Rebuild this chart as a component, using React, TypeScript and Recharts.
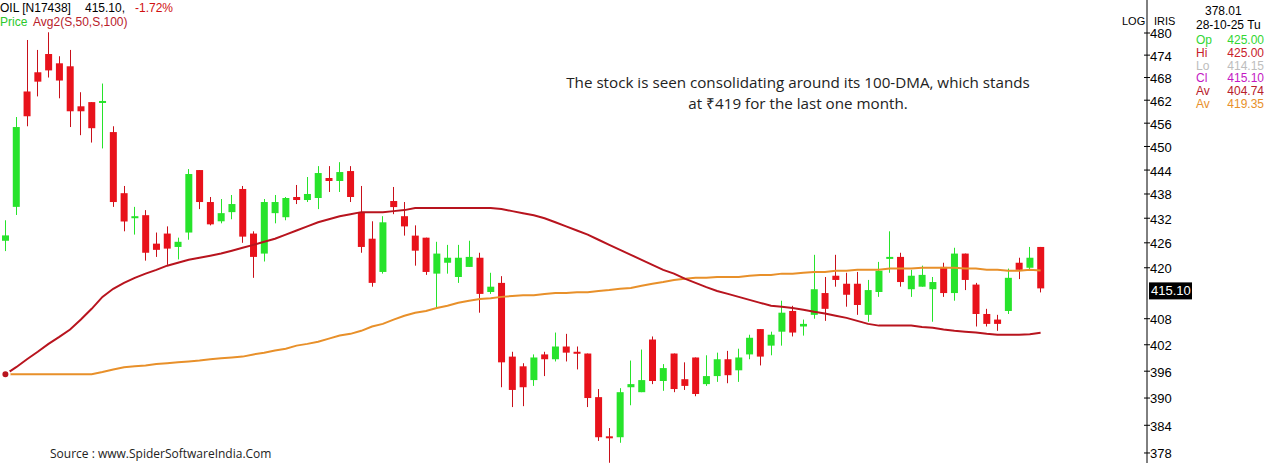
import React from "react";
import { ComposedChart, Bar, Line, XAxis, YAxis, ReferenceLine } from "recharts";

// daily candles, oldest first
const opens = [
  426.5, 434.8, 464.3, 469.4, 474.3, 471.8, 471, 460.4, 461.5, 461.5,
  453.7, 438.2, 432, 432.75, 425.8, 428.25, 425, 428.5, 444, 436,
  431.25, 433.5, 439.25, 428.25, 423.4, 433.25, 432.25, 437.25, 436.5, 437,
  442, 441.25, 443.75, 433.5, 427, 419, 436.25, 432.5, 427.75, 427.25,
  418.6, 421.2, 417.8, 420.2, 422.4, 414.25, 416.4, 399.3, 397.1, 394,
  399.8, 398.7, 401.6, 400.4, 400, 390.2, 381.6, 381.4, 392.4, 391.3,
  403.2, 393.8, 400, 394.2, 399.1, 393.1, 394.9, 398.7, 396.2, 399.8,
  405.6, 401.8, 405, 409.8, 406.2, 408.9, 414, 418.1, 416.2, 416.2,
  408.9, 414.25, 422.4, 422.6, 414.9, 415.5, 414.9, 420.2, 414, 423.4,
  416, 409.1, 407.8, 409.8, 421.2, 420, 425,
];
const highs = [
  431.5, 457.6, 478.1, 475.4, 480.2, 473.7, 475.4, 464.1, 461.5, 466.4,
  455.2, 440, 434.8, 434, 428.5, 430, 427.25, 444.25, 444, 437.25,
  436.75, 437.75, 440, 428.8, 436.75, 437.75, 437.25, 440.25, 442.25, 445,
  445, 446, 445, 440, 431.25, 432.5, 439.75, 436, 430.25, 427.25,
  426.25, 425.5, 425.5, 426.5, 423.6, 418.8, 418, 400.4, 397.8, 399.8,
  400.4, 404.8, 404.5, 401.6, 400, 392, 383.4, 392.2, 398.4, 400.9,
  403.9, 397.6, 400, 398, 399.1, 399.6, 400.2, 400.6, 401.1, 404.3,
  405.6, 405, 412.2, 411, 407.8, 423.1, 417.8, 423.1, 418.8, 419,
  417.1, 421.4, 428.8, 423.6, 419.5, 420.5, 417.8, 421.2, 424.8, 423.4,
  416.4, 410.3, 408.9, 419.8, 422.4, 425, 425,
];
const lows = [
  424, 432.8, 455.2, 463, 468, 462.5, 455, 452.9, 451, 449.5,
  434.8, 428.8, 428, 421.7, 422.6, 420.7, 422, 426.75, 434.25, 430.25,
  430.75, 431.75, 426, 417.6, 421.5, 430.75, 431.5, 435.5, 436, 434.25,
  438.5, 438.5, 436, 423.6, 415.5, 418.6, 433, 427.75, 420.5, 418.3,
  410.5, 418.6, 416.4, 420.2, 409.4, 413.8, 392.4, 388, 388.2, 392.7,
  394.9, 398.2, 398.2, 396.4, 388, 380.6, 375.9, 380.2, 388.4, 391.3,
  393.1, 391.6, 391.3, 391.8, 390.4, 392.7, 393.6, 393.3, 393.6, 398.7,
  397.3, 399.6, 401.8, 403.9, 404.1, 408, 407.5, 415.5, 410.8, 408.9,
  407.3, 413.1, 418.8, 415.5, 413.1, 415.5, 407.3, 413.1, 412.2, 414.7,
  406.2, 406.2, 405.2, 409.1, 417.3, 419.3, 414.15,
];
const closes = [
  427.8, 455, 457.8, 466.9, 469.9, 467.2, 459.1, 459.1, 454.7, 461.8,
  436, 431.2, 432.5, 423.6, 424.3, 424.6, 426.25, 443, 436, 430.5,
  433.25, 435.5, 427.5, 422.6, 436, 436, 437, 436.5, 438, 443.25,
  441.25, 443.5, 437.25, 425, 416.4, 431, 434.75, 430, 424.1, 419,
  423.4, 422.4, 422.4, 422.6, 413.8, 415.5, 398, 391.8, 392.4, 399.1,
  398.7, 401.6, 400.2, 400.2, 390, 381.4, 381.4, 391.3, 393.1, 394,
  393.8, 396.7, 392, 392.7, 390.9, 394.9, 398.7, 395.1, 399.1, 403.6,
  399.3, 404.3, 409.4, 404.8, 406.8, 414.9, 410.3, 417.1, 413.6, 411.2,
  414.7, 419.3, 422.6, 416.6, 418.1, 418.3, 416.6, 414, 423.4, 417.1,
  409.1, 406.8, 406.8, 417.6, 419.5, 422.4, 415.1,
];
// simple moving averages
const ma50 = [
  395.3, 396.9, 398.7, 400.4, 402.2, 403.8, 405.5, 407.8, 410.3, 413.1,
  415.0, 416.4, 417.6, 418.6, 419.5, 420.5, 421.2, 421.9, 422.4, 422.9,
  423.4, 424.1, 424.8, 425.5, 426.25, 427.0, 428.0, 429.0, 430.0, 431.0,
  431.75, 432.5, 433.0, 433.5, 433.5, 433.5, 433.75, 434.0, 434.5, 434.5,
  434.5, 434.5, 434.5, 434.5, 434.5, 434.5, 434.25, 433.75, 433.25, 432.75,
  432.0, 431.0, 430.0, 429.0, 428.0, 426.75, 425.5, 424.3, 423.1, 421.9,
  420.7, 419.5, 418.6, 417.4, 416.4, 415.4, 414.5, 413.8, 413.1, 412.4,
  411.7, 411.0, 410.8, 410.5, 410.1, 409.6, 409.2, 408.7, 408.2, 407.5,
  406.8, 406.4, 406.4, 406.4, 406.4, 406.1, 405.9, 405.5, 405.2, 405.0,
  404.8, 404.5, 404.3, 404.3, 404.3, 404.4, 404.74,
];
const ma100 = [
  395.3, 395.3, 395.3, 395.3, 395.3, 395.3, 395.3, 395.3, 395.3, 395.8,
  396.4, 396.9, 397.1, 397.3, 397.6, 397.8, 398.0, 398.2, 398.4, 398.7,
  398.9, 399.1, 399.3, 399.8, 400.2, 400.7, 401.1, 401.8, 402.2, 402.7,
  403.4, 404.1, 404.5, 405.2, 406.2, 406.8, 407.8, 408.7, 409.4, 409.8,
  410.5, 411.0, 411.7, 412.2, 412.6, 412.8, 413.1, 413.3, 413.5, 413.5,
  413.8, 414.0, 414.0, 414.2, 414.2, 414.5, 414.7, 415.0, 415.2, 415.7,
  416.2, 416.6, 417.1, 417.4, 417.6, 417.6, 417.8, 417.8, 417.8, 418.1,
  418.3, 418.3, 418.6, 418.6, 418.8, 419.0, 419.0, 419.3, 419.3, 419.5,
  419.5, 419.5, 419.8, 419.8, 419.8, 420.0, 420.0, 420.0, 420.0, 419.8,
  419.8, 419.5, 419.5, 419.3, 419.3, 419.5, 419.35,
];
const yTicks = [378, 384, 390, 396, 402, 408, 420, 426, 432, 438, 444, 450, 456, 462, 468, 474, 480];

const UP = "#27e32b";
const DOWN = "#e8121b";
const DOWN_WICK = "#c8101a";
const MA50_COLOR = "#b8141e";
const MA100_COLOR = "#e8902a";
const FONT = "'Liberation Sans', Arial, sans-serif";

const data = opens.map((o, i) => ({
  day: i + 1,
  open: o,
  high: highs[i],
  low: lows[i],
  close: closes[i],
  range: [lows[i], highs[i]],
  ma50: ma50[i],
  ma100: ma100[i],
}));

const lastClose = closes[closes.length - 1];

function Candle(props: any) {
  const { x, y, width, height, payload } = props;
  const top = height < 0 ? y + height : y;
  const h = Math.abs(height);
  const { open, close, high, low } = payload;
  const span = Math.log(high) - Math.log(low);
  // log axis: place open/close between the high and low ends of the bar
  const at = (v: number) => (span > 0 ? top + (h * (Math.log(high) - Math.log(v))) / span : top);
  const up = close >= open;
  const cx = Math.floor(x + width / 2) + 0.5;
  const bTop = at(Math.max(open, close));
  const bBot = at(Math.min(open, close));
  return (
    <g>
      <line x1={cx} x2={cx} y1={top} y2={top + h} stroke={up ? UP : DOWN_WICK} strokeWidth={1} />
      <rect x={x} y={bTop} width={width} height={Math.max(bBot - bTop, 2)} fill={up ? UP : DOWN} />
    </g>
  );
}

function PriceTick(props: any) {
  const { x, y, payload } = props;
  return (
    <g>
      <line x1={x - 3} x2={x + 3} y1={y} y2={y} stroke="#000" />
      <text x={x + 3} y={y + 2} fontSize={13} fontFamily={FONT} fill="#000" dominantBaseline="middle">
        {payload.value}
      </text>
    </g>
  );
}

function LastLabel(props: any) {
  const vb = props.viewBox;
  const x = vb.x + vb.width + 2;
  const y = vb.y;
  return (
    <g>
      <rect x={x} y={y - 6} width={43} height={17} fill="#000" />
      <text x={x + 2} y={y + 3} fontSize={13} fontFamily={FONT} fill="#fff" dominantBaseline="middle">
        {lastClose.toFixed(2)}
      </text>
    </g>
  );
}

const abs = (left: number, top: number, color: string, size = 12, extra: any = {}) => ({
  position: "absolute" as const,
  left,
  top,
  color,
  fontSize: size,
  fontFamily: FONT,
  lineHeight: "14px",
  whiteSpace: "nowrap" as const,
  ...extra,
});

const info = [
  { k: "Op", v: "425.00", c: "#33d633" },
  { k: "Hi", v: "425.00", c: "#c8202a" },
  { k: "Lo", v: "414.15", c: "#bdbdbd" },
  { k: "Cl", v: "415.10", c: "#c418c4" },
  { k: "Av", v: "404.74", c: "#b8202a" },
  { k: "Av", v: "419.35", c: "#e8902a" },
];

export default function App() {
  return (
    <div style={{ position: "absolute", left: 0, top: 0, width: 1266, height: 470, background: "#fff" }}>
      <ComposedChart width={1266} height={470} data={data} margin={{ top: 0, right: 0, bottom: 7, left: 0 }}>
        <XAxis
          dataKey="day"
          height={0}
          tick={false}
          tickLine={false}
          axisLine={{ stroke: "#000" }}
          padding={{ left: 0, right: 101 }}
        />
        <YAxis
          orientation="right"
          width={119}
          scale="log"
          domain={[375.85, 489.1]}
          allowDataOverflow
          ticks={yTicks}
          interval={0}
          tickSize={0}
          tickMargin={0}
          tickLine={false}
          axisLine={{ stroke: "#000" }}
          tick={<PriceTick />}
        />
        <Bar dataKey="range" barSize={7} shape={<Candle />} isAnimationActive={false} />
        <Line dataKey="ma100" type="linear" stroke={MA100_COLOR} strokeWidth={2} dot={false} isAnimationActive={false} />
        <Line dataKey="ma50" type="linear" stroke={MA50_COLOR} strokeWidth={2} dot={false} isAnimationActive={false} />
        <ReferenceLine y={lastClose} stroke="none" label={<LastLabel />} />
      </ComposedChart>

      <div style={abs(0, 1, "#000")}>OIL [N17438]</div>
      <div style={abs(85, 1, "#000")}>415.10,</div>
      <div style={abs(135, 1, "#d01010")}>-1.72%</div>
      <div style={abs(0, 15, "#2cc82c")}>Price</div>
      <div style={abs(33, 15, "#b8202a")}>Avg2(S,50,S,100)</div>

      <div style={abs(1122, 14, "#000", 11)}>LOG</div>
      <div style={abs(1154, 14, "#000", 11)}>IRIS</div>
      <div style={abs(1205, 4, "#000")}>378.01</div>
      <div style={abs(1196, 18, "#000")}>28-10-25 Tu</div>
      {info.map((r, i) => (
        <React.Fragment key={i}>
          <div style={abs(1196, 33 + i * 12.8, r.c)}>{r.k}</div>
          <div style={abs(1222, 33 + i * 12.8, r.c, 12, { width: 42, textAlign: "right" })}>{r.v}</div>
        </React.Fragment>
      ))}

      <div
        style={abs(548, 72, "#222", 15.2, {
          fontFamily: "'Open Sans', sans-serif",
          width: 500,
          textAlign: "center",
          lineHeight: "21px",
          whiteSpace: "normal",
        })}
      >
        The stock is seen consolidating around its 100-DMA, which stands
        <br />
        at ₹419 for the last one month.
      </div>

      <div style={abs(50, 447, "#222", 12, { fontFamily: "'Open Sans', sans-serif" })}>
        Source : www.SpiderSoftwareIndia.Com
      </div>
    </div>
  );
}
